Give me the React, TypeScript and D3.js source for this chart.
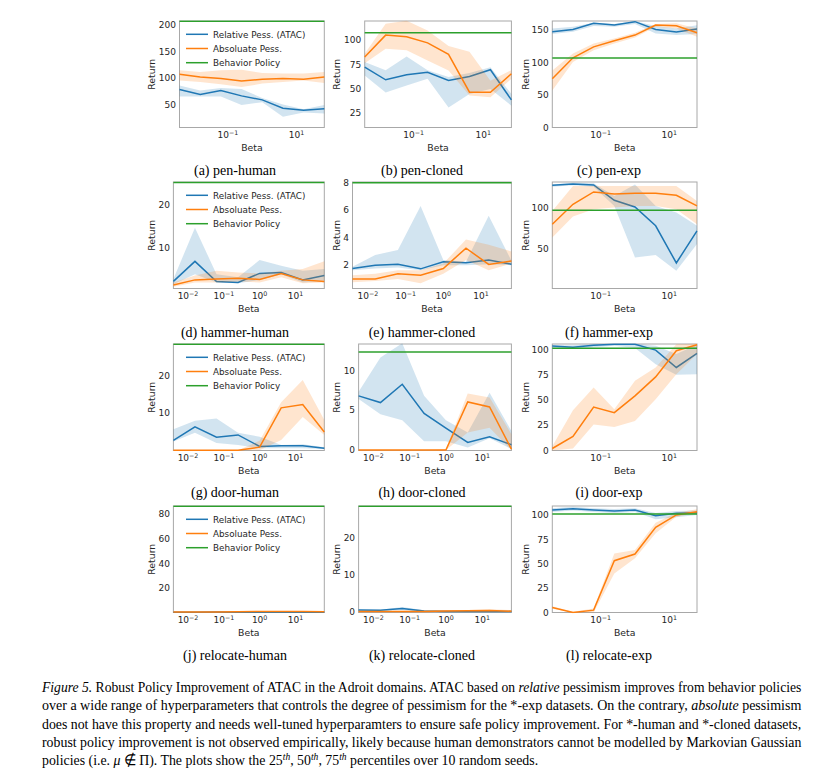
import { useEffect, useRef } from 'react';
import * as d3 from 'd3';

// beta sweep shared by every panel (4^-4 ... 4^3)
const betas = [0.00390625, 0.015625, 0.0625, 0.25, 1, 4, 16, 64];
const seriesNames = ['Relative Pess. (ATAC)', 'Absoluate Pess.', 'Behavior Policy'];
const seriesColors = ['#1f77b4', '#ff7f0e', '#2ca02c'];
const fewTicks = [0.1, 10];
const allTicks = [0.01, 0.1, 1, 10];

interface PanelData {
  title: string;
  rel: number[];
  relLo: number[];
  relHi: number[];
  abs: number[];
  absLo: number[];
  absHi: number[];
  behavior: number;
  yDomain: [number, number];
  yTicks: number[];
  xTicks: number[];
  legend?: boolean;
}

const penHuman: PanelData = {
  title: '(a) pen-human',
  rel: [79, 69.6, 77.2, 67, 59.5, 43.7, 39.9, 43],
  relLo: [65.8, 66, 66, 50, 55, 28, 36, 34],
  relHi: [86.7, 77, 82, 80, 63, 50.6, 42, 50],
  abs: [107.6, 102.5, 99.4, 95, 98, 99.4, 98, 102.5],
  absLo: [96, 93, 88.6, 83.5, 90, 93, 96, 91],
  absHi: [115, 112, 115, 116, 110, 109, 109, 112],
  behavior: 207,
  yDomain: [7.6, 207.6],
  yTicks: [50, 100, 150, 200],
  xTicks: fewTicks,
  legend: true,
};

const penCloned: PanelData = {
  title: '(b) pen-cloned',
  rel: [72.2, 59, 64.2, 66.7, 58.3, 62.5, 69.4, 38.2],
  relLo: [63.5, 46, 53, 60, 30.5, 44.4, 49.6, 32.3],
  relHi: [77.4, 68.8, 83, 68.8, 62, 66, 72, 44.4],
  abs: [82.6, 105.2, 103.5, 97.2, 85.4, 46.2, 46.2, 65.3],
  absLo: [76, 91, 89.6, 79, 68.7, 42.7, 41, 60],
  absHi: [86, 117, 120, 110, 94, 88, 58, 69],
  behavior: 107.7,
  yDomain: [9.7, 119.8],
  yTicks: [25, 50, 75, 100],
  xTicks: fewTicks,
};

const penExp: PanelData = {
  title: '(c) pen-exp',
  rel: [146.9, 150.5, 159.8, 157.2, 162.4, 150.5, 146.4, 151],
  relLo: [143.3, 146.9, 155.7, 154.6, 158.8, 144.3, 141.8, 143.3],
  relHi: [152, 154.6, 160.8, 158.8, 163, 155.7, 152, 157],
  abs: [74.7, 107, 123.7, 133, 141.8, 157.2, 156.2, 145.4],
  absLo: [56.7, 100.5, 118.6, 128.9, 138.1, 154.6, 152, 139.2],
  absHi: [87.6, 113.4, 128.9, 136.6, 145.4, 158.8, 159.8, 152],
  behavior: 106.5,
  yDomain: [0, 163.4],
  yTicks: [0, 50, 100, 150],
  xTicks: fewTicks,
};

const hammerHuman: PanelData = {
  title: '(d) hammer-human',
  rel: [2.15, 6.8, 2.1, 1.9, 4, 4.2, 2.5, 3.5],
  relLo: [1.5, 3.8, 1.9, 1.7, 2.5, 3.8, 1.9, 2.3],
  relHi: [2.7, 14.6, 3.8, 3.1, 7.1, 5.8, 4.6, 5],
  abs: [1.3, 2.5, 2.7, 2.9, 2.6, 4, 2.5, 2.15],
  absLo: [0.9, 1.9, 1.9, 2.15, 1.9, 3.1, 1.7, 1.9],
  absHi: [1.9, 3.5, 4.6, 4.2, 4, 4.6, 5, 6.8],
  behavior: 25.1,
  yDomain: [0.5, 25.2],
  yTicks: [10, 20],
  xTicks: allTicks,
  legend: true,
};

const hammerCloned: PanelData = {
  title: '(e) hammer-cloned',
  rel: [1.75, 2.0, 2.07, 1.73, 2.25, 2.17, 2.37, 2.07],
  relLo: [1.63, 1.75, 1.83, 1.63, 2.0, 2.0, 2.07, 2.0],
  relHi: [1.88, 2.74, 3.1, 6.3, 2.37, 2.25, 5.6, 2.32],
  abs: [1.0, 1.0, 1.38, 1.26, 1.75, 3.24, 2.05, 2.3],
  absLo: [0.76, 0.84, 1.0, 0.69, 1.38, 2.37, 1.63, 2.12],
  absHi: [1.26, 1.38, 1.63, 1.63, 2.12, 3.86, 3.49, 3.0],
  behavior: 8.0,
  yDomain: [0.3, 8.05],
  yTicks: [2, 4, 6, 8],
  xTicks: allTicks,
};

const hammerExp: PanelData = {
  title: '(f) hammer-exp',
  rel: [127.9, 129.5, 128.3, 109.4, 101.2, 77.9, 32, 71.7],
  relLo: [126.2, 127.9, 126.2, 102.5, 38.9, 41.8, 22.5, 55.3],
  relHi: [129, 131, 130.4, 114.8, 129, 102.5, 94.3, 77.9],
  abs: [79.9, 104.5, 119.7, 117.2, 118, 118, 115.6, 102.5],
  absLo: [63.5, 89.3, 98.4, 100.4, 102.5, 102.5, 98.4, 79.9],
  absHi: [96.3, 127, 127, 127, 127, 127, 127, 108.6],
  behavior: 97,
  yDomain: [0.5, 132],
  yTicks: [50, 100],
  xTicks: fewTicks,
};

const doorHuman: PanelData = {
  title: '(g) door-human',
  rel: [2.6, 6.3, 3.5, 4.1, 1.0, 1.2, 1.15, 0.5],
  relLo: [2.3, 4.7, 1.9, 1.4, 0.5, 0.5, 0.5, 0.3],
  relHi: [5.6, 7.9, 8.5, 4.7, 3.6, 1.4, 1.6, 0.8],
  abs: [0, 0, 0, 0, 0.8, 11.4, 12.3, 4.9],
  absLo: [0, 0, 0, 0, 0, 2.7, 8.9, 4.1],
  absHi: [0, 0, 0, 0, 2.5, 12.9, 18.9, 8.1],
  behavior: 28.5,
  yDomain: [-0.1, 28.6],
  yTicks: [10, 20],
  xTicks: allTicks,
  legend: true,
};

const doorCloned: PanelData = {
  title: '(h) door-cloned',
  rel: [6.8, 5.96, 8.25, 4.6, 2.75, 0.96, 1.67, 0.67],
  relLo: [6.4, 4.5, 3.75, 1.1, 1.1, 0.33, 1.5, 0.13],
  relHi: [7.3, 11.6, 13.4, 6.8, 3.75, 2.2, 7.2, 2.4],
  abs: [0, 0, 0, 0, 0, 6.04, 5.4, 0.13],
  absLo: [0, 0, 0, 0, 0, 2.2, 2.8, 0],
  absHi: [0, 0, 0, 0, 0.13, 7.1, 6.6, 2],
  behavior: 12.3,
  yDomain: [-0.05, 13.3],
  yTicks: [0, 5, 10],
  xTicks: allTicks,
};

const doorExp: PanelData = {
  title: '(i) door-exp',
  rel: [103.3, 102, 104, 105, 105, 99.3, 82.1, 96],
  relLo: [100.3, 100.3, 102, 103.6, 101.3, 85.4, 74.8, 75.5],
  relHi: [104, 104, 105, 105.5, 105.5, 103.6, 95.4, 104.6],
  abs: [2, 13.9, 43, 37.4, 54, 72.8, 98.7, 104.6],
  absLo: [0, 2, 25.8, 23.2, 29.1, 50.7, 75.5, 95.4],
  absHi: [4.3, 39.7, 62.3, 40.7, 68.9, 82.1, 105, 105.5],
  behavior: 101,
  yDomain: [0, 105.3],
  yTicks: [0, 25, 50, 75, 100],
  xTicks: fewTicks,
};

const relocateHuman: PanelData = {
  title: '(j) relocate-human',
  rel: [0.3, 0.3, 0.35, 0.3, 0.3, 0.3, 0.3, 0.3],
  relLo: [0.2, 0.2, 0.2, 0.2, 0.2, 0.2, 0.2, 0.2],
  relHi: [0.4, 0.4, 0.5, 0.4, 0.4, 0.4, 0.4, 0.4],
  abs: [0.5, 0.4, 0.5, 0.6, 0.8, 0.9, 0.8, 0.7],
  absLo: [0.3, 0.3, 0.3, 0.4, 0.5, 0.6, 0.5, 0.5],
  absHi: [0.7, 0.6, 0.7, 0.8, 1.1, 1.2, 1.1, 1.0],
  behavior: 86.4,
  yDomain: [0, 86.6],
  yTicks: [20, 40, 60, 80],
  xTicks: allTicks,
  legend: true,
};

const relocateCloned: PanelData = {
  title: '(k) relocate-cloned',
  rel: [0.45, 0.4, 0.9, 0.2, 0.1, 0.1, 0.05, 0.05],
  relLo: [0.3, 0.25, 0.5, 0.05, 0, 0, 0, 0],
  relHi: [0.6, 0.55, 1.3, 0.4, 0.3, 0.25, 0.2, 0.2],
  abs: [0.05, 0.05, 0.1, 0.1, 0.2, 0.25, 0.35, 0.15],
  absLo: [0, 0, 0, 0, 0, 0.05, 0.1, 0],
  absHi: [0.1, 0.15, 0.25, 0.3, 0.45, 0.5, 0.65, 0.45],
  behavior: 28.5,
  yDomain: [-0.2, 28.6],
  yTicks: [0, 10, 20],
  xTicks: allTicks,
};

const relocateExp: PanelData = {
  title: '(l) relocate-exp',
  rel: [105.1, 106.5, 105.1, 104.1, 105.1, 99.3, 101.7, 102.4],
  relLo: [103, 104.5, 103, 102, 103, 95.5, 97.6, 100],
  relHi: [107, 108.5, 107, 106, 107, 102, 104, 104.5],
  abs: [5.1, 0, 2.4, 53.1, 59.9, 87.3, 100, 103.4],
  absLo: [3.8, 0, 0, 40, 55.5, 81.2, 98.3, 101.7],
  absHi: [6.5, 0.7, 4.1, 60.6, 64, 92, 102.4, 105.8],
  behavior: 101,
  yDomain: [0, 109.2],
  yTicks: [0, 25, 50, 75, 100],
  xTicks: fewTicks,
};

const panels = [
  penHuman, penCloned, penExp,
  hammerHuman, hammerCloned, hammerExp,
  doorHuman, doorCloned, doorExp,
  relocateHuman, relocateCloned, relocateExp,
];

// figure caption, one entry per printed line: [text, style] with style '' | 'i' | 'sup'
type Seg = [string, string];
const captionLines: Seg[][] = [
  [
    ['Figure 5.', 'i'],
    [' Robust Policy Improvement of ATAC in the Adroit domains. ATAC based on ', ''],
    ['relative', 'i'],
    [' pessimism improves from behavior policies', ''],
  ],
  [
    ['over a wide range of hyperparameters that controls the degree of pessimism for the *-exp datasets. On the contrary, ', ''],
    ['absolute', 'i'],
    [' pessimism', ''],
  ],
  [['does not have this property and needs well-tuned hyperparamters to ensure safe policy improvement. For *-human and *-cloned datasets,', '']],
  [['robust policy improvement is not observed empirically, likely because human demonstrators cannot be modelled by Markovian Gaussian', '']],
  [
    ['policies (i.e. ', ''],
    ['μ', 'i'],
    [' ∉ Π). The plots show the 25', ''],
    ['th', 'sup'],
    [', 50', ''],
    ['th', 'sup'],
    [', 75', ''],
    ['th', 'sup'],
    [' percentiles over 10 random seeds.', ''],
  ],
];

// layout (pixels)
const W = 838;
const H = 782;
const colRight = [324.3, 511.4, 697];
const colAnchor = [161.2, 346.4, 534];
const colYLabel = [151.5, 337, 525.5];
const colCaption = [235, 422, 609];
const rowTop = [21, 182, 344, 506];
const rowCaption = [170, 332, 492, 655];
const plotH = 106.5;
const capX = 42;
const capW = 760;
const capTop = 692;
const capStep = 18.3;

const sans = 'DejaVu Sans, sans-serif';
const serif = 'Liberation Serif, Times New Roman, serif';

const App = () => {
  const chartRef = useRef<SVGGElement>(null);

  useEffect(() => {
    if (!chartRef.current) return;
    const root = d3.select(chartRef.current);
    root.selectAll('*').remove();
    const defs = root.append('defs');

    panels.forEach((p, i) => {
      const row = Math.floor(i / 3);
      const col = i % 3;
      const maxChars = d3.max(p.yTicks, (t) => String(t).length) || 1;
      const left = colAnchor[col] + maxChars * 6.1;
      const right = colRight[col];
      const top = rowTop[row];
      const bottom = top + plotH;

      const x = d3
        .scaleLog()
        .domain([betas[0], betas[betas.length - 1]])
        .range([left, right]);
      const y = d3.scaleLinear().domain(p.yDomain).range([bottom, top]);

      // clip a little outside the frame so edge lines stay visible
      const clipId = `clip-${i}`;
      defs
        .append('clipPath')
        .attr('id', clipId)
        .append('rect')
        .attr('x', left - 0.8)
        .attr('y', top - 0.8)
        .attr('width', right - left + 1.6)
        .attr('height', bottom - top + 1.6);

      const g = root.append('g');

      g.append('rect')
        .attr('x', left)
        .attr('y', top)
        .attr('width', right - left)
        .attr('height', bottom - top)
        .attr('fill', 'none')
        .attr('stroke', '#a8a8a8')
        .attr('stroke-width', 1);

      const plot = g.append('g').attr('clip-path', `url(#${clipId})`);

      const band = (lo: number[], hi: number[]) =>
        d3
          .area<number>()
          .x((_, j) => x(betas[j]))
          .y0((_, j) => y(lo[j]))
          .y1((_, j) => y(hi[j]))(betas);
      const line = (vals: number[]) =>
        d3
          .line<number>()
          .x((_, j) => x(betas[j]))
          .y((_, j) => y(vals[j]))(betas);

      plot.append('path').attr('d', band(p.relLo, p.relHi)).attr('fill', seriesColors[0]).attr('fill-opacity', 0.2);
      plot.append('path').attr('d', line(p.rel)).attr('fill', 'none').attr('stroke', seriesColors[0]).attr('stroke-width', 1.5);
      plot.append('path').attr('d', band(p.absLo, p.absHi)).attr('fill', seriesColors[1]).attr('fill-opacity', 0.2);
      plot.append('path').attr('d', line(p.abs)).attr('fill', 'none').attr('stroke', seriesColors[1]).attr('stroke-width', 1.5);
      plot
        .append('line')
        .attr('x1', left)
        .attr('x2', right)
        .attr('y1', y(p.behavior))
        .attr('y2', y(p.behavior))
        .attr('stroke', seriesColors[2])
        .attr('stroke-width', 1.5);

      // y ticks
      g.selectAll('.ytick')
        .data(p.yTicks)
        .enter()
        .append('text')
        .attr('x', left - 3.5)
        .attr('y', (d) => y(d) + 3.2)
        .attr('text-anchor', 'end')
        .attr('font-family', sans)
        .attr('font-size', 9)
        .attr('fill', '#262626')
        .text((d) => String(d));

      // x ticks 10^k
      const xt = g
        .selectAll('.xtick')
        .data(p.xTicks)
        .enter()
        .append('text')
        .attr('x', (d) => x(d))
        .attr('y', bottom + 10.8)
        .attr('text-anchor', 'middle')
        .attr('font-family', sans)
        .attr('font-size', 9)
        .attr('fill', '#262626');
      xt.append('tspan').text('10');
      xt.append('tspan')
        .attr('dy', -3.8)
        .attr('font-size', 6.3)
        .text((d) => {
          const e = Math.round(Math.log10(d));
          return e < 0 ? `\u2212${-e}` : `${e}`;
        });

      g.append('text')
        .attr('x', (left + right) / 2)
        .attr('y', bottom + 23.5)
        .attr('text-anchor', 'middle')
        .attr('font-family', sans)
        .attr('font-size', 9.3)
        .attr('fill', '#262626')
        .text('Beta');

      g.append('text')
        .attr('transform', `translate(${colYLabel[col] + 3.3},${(top + bottom) / 2}) rotate(-90)`)
        .attr('text-anchor', 'middle')
        .attr('font-family', sans)
        .attr('font-size', 9.3)
        .attr('fill', '#262626')
        .text('Return');

      if (p.legend) {
        seriesNames.forEach((name, k) => {
          const ly = top + 13.3 + k * 14.2;
          g.append('line')
            .attr('x1', 186)
            .attr('x2', 208)
            .attr('y1', ly)
            .attr('y2', ly)
            .attr('stroke', seriesColors[k])
            .attr('stroke-width', 1.5);
          g.append('text')
            .attr('x', 213)
            .attr('y', ly + 3.2)
            .attr('font-family', sans)
            .attr('font-size', 8.8)
            .attr('fill', '#262626')
            .text(name);
        });
      }

      root
        .append('text')
        .attr('x', colCaption[col])
        .attr('y', rowCaption[row] + 4.5)
        .attr('text-anchor', 'middle')
        .attr('font-family', serif)
        .attr('font-size', 14)
        .attr('fill', '#000')
        .text(p.title);
    });

    // caption: natural layout, then squeeze each justified line to the column width
    let lastScale = 1;
    captionLines.forEach((segs, li) => {
      const t = root
        .append('text')
        .attr('x', 0)
        .attr('y', 0)
        .attr('font-family', serif)
        .attr('font-size', 14.5)
        .attr('fill', '#000');
      let raised = false;
      segs.forEach(([txt, style]) => {
        const ts = t.append('tspan').text(txt);
        if (style === 'i') ts.attr('font-style', 'italic');
        if (style === 'sup') {
          ts.attr('font-style', 'italic').attr('font-size', 10).attr('dy', -5);
          raised = true;
        } else if (raised) {
          ts.attr('dy', 5);
          raised = false;
        }
      });
      const node = t.node() as SVGTextElement;
      const natural = node.getComputedTextLength() || capW;
      const last = li === captionLines.length - 1;
      const sx = last ? lastScale : capW / natural;
      lastScale = sx;
      t.attr('transform', `translate(${capX},${capTop + li * capStep}) scale(${sx},1)`);
    });
  }, []);

  return (
    <svg
      width={W}
      height={H}
      style={{ position: 'absolute', left: 0, top: 0, background: '#fff' }}
    >
      <g ref={chartRef} />
    </svg>
  );
};

export default App;
